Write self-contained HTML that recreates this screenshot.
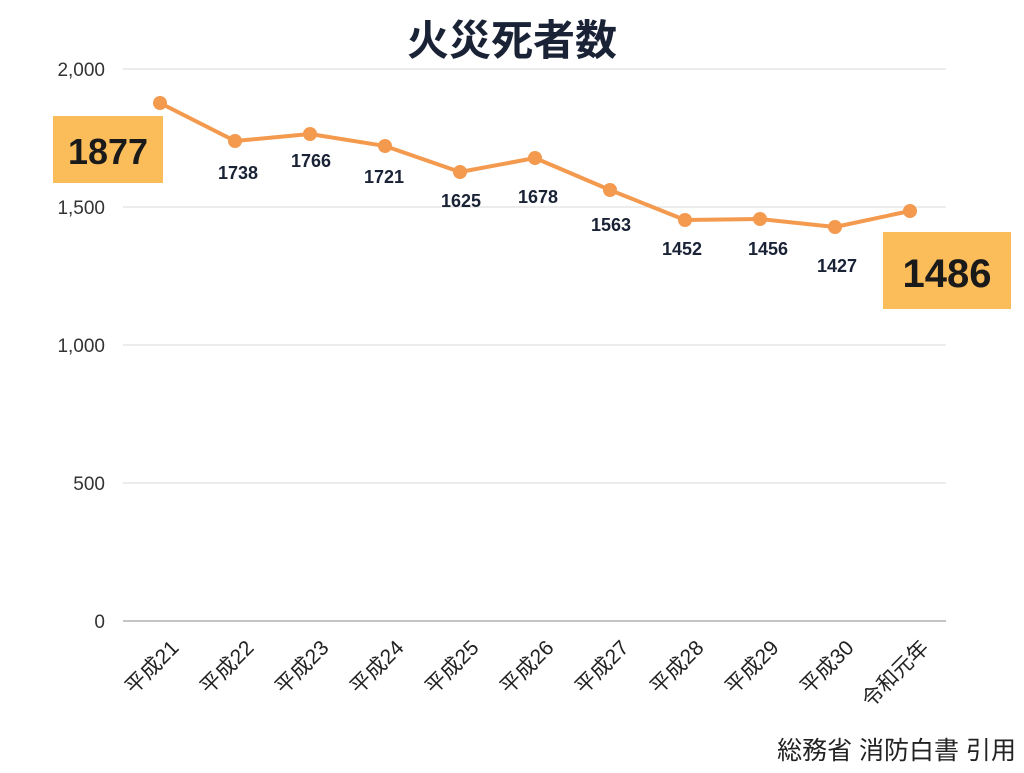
<!DOCTYPE html>
<html><head><meta charset="utf-8"><style>
body{margin:0;background:#fff;}
svg text{font-family:"Liberation Sans","Noto Sans CJK JP",sans-serif;}
</style></head><body>
<svg width="1024" height="768" xmlns="http://www.w3.org/2000/svg">
<text x="512" y="55" text-anchor="middle" font-size="42" font-weight="bold" fill="#1a2236">火災死者数</text>
<g stroke="#d8d8d8" stroke-width="1">
<line x1="123" y1="69" x2="946" y2="69"/>
<line x1="123" y1="207" x2="946" y2="207"/>
<line x1="123" y1="345" x2="946" y2="345"/>
<line x1="123" y1="483" x2="946" y2="483"/>
</g>
<line x1="123" y1="621" x2="946" y2="621" stroke="#b0b0b0" stroke-width="1.5"/>
<g font-size="19" fill="#333" text-anchor="end">
<text x="105" y="76">2,000</text>
<text x="105" y="214">1,500</text>
<text x="105" y="352">1,000</text>
<text x="105" y="490">500</text>
<text x="105" y="628">0</text>
</g>
<polyline fill="none" stroke="#f39a4f" stroke-width="4" stroke-linejoin="round" points="160,103 235,141 310,134 385,146 460,172 535,158 610,190 685,220 760,219 835,227 910,211"/>
<g fill="#f39a4f">
<circle cx="160" cy="103" r="7"/><circle cx="235" cy="141" r="7"/><circle cx="310" cy="134" r="7"/><circle cx="385" cy="146" r="7"/><circle cx="460" cy="172" r="7"/><circle cx="535" cy="158" r="7"/><circle cx="610" cy="190" r="7"/><circle cx="685" cy="220" r="7"/><circle cx="760" cy="219" r="7"/><circle cx="835" cy="227" r="7"/><circle cx="910" cy="211" r="7"/>
</g>
<g font-size="18" font-weight="bold" fill="#1a2236" text-anchor="middle">
<text x="238" y="179">1738</text>
<text x="311" y="167">1766</text>
<text x="384" y="183">1721</text>
<text x="461" y="207">1625</text>
<text x="538" y="203">1678</text>
<text x="611" y="231">1563</text>
<text x="682" y="255">1452</text>
<text x="768" y="255">1456</text>
<text x="837" y="272">1427</text>
</g>
<rect x="53" y="116" width="110" height="67" fill="#fbbd5a"/>
<text x="108" y="164" text-anchor="middle" font-size="36" font-weight="bold" fill="#1a1a1a">1877</text>
<rect x="883" y="232" width="128" height="77" fill="#fbbd5a"/>
<text x="947" y="287" text-anchor="middle" font-size="40" font-weight="bold" fill="#1a1a1a">1486</text>
<g font-size="21" fill="#222" text-anchor="end">
<text transform="translate(180,649) rotate(-45)">平成21</text>
<text transform="translate(255,649) rotate(-45)">平成22</text>
<text transform="translate(330,649) rotate(-45)">平成23</text>
<text transform="translate(405,649) rotate(-45)">平成24</text>
<text transform="translate(480,649) rotate(-45)">平成25</text>
<text transform="translate(555,649) rotate(-45)">平成26</text>
<text transform="translate(630,649) rotate(-45)">平成27</text>
<text transform="translate(705,649) rotate(-45)">平成28</text>
<text transform="translate(780,649) rotate(-45)">平成29</text>
<text transform="translate(855,649) rotate(-45)">平成30</text>
<text transform="translate(930,649) rotate(-45)">令和元年</text>
</g>
<text x="1016" y="759" text-anchor="end" font-size="25" fill="#222">総務省 消防白書 引用</text>
</svg>
</body></html>
